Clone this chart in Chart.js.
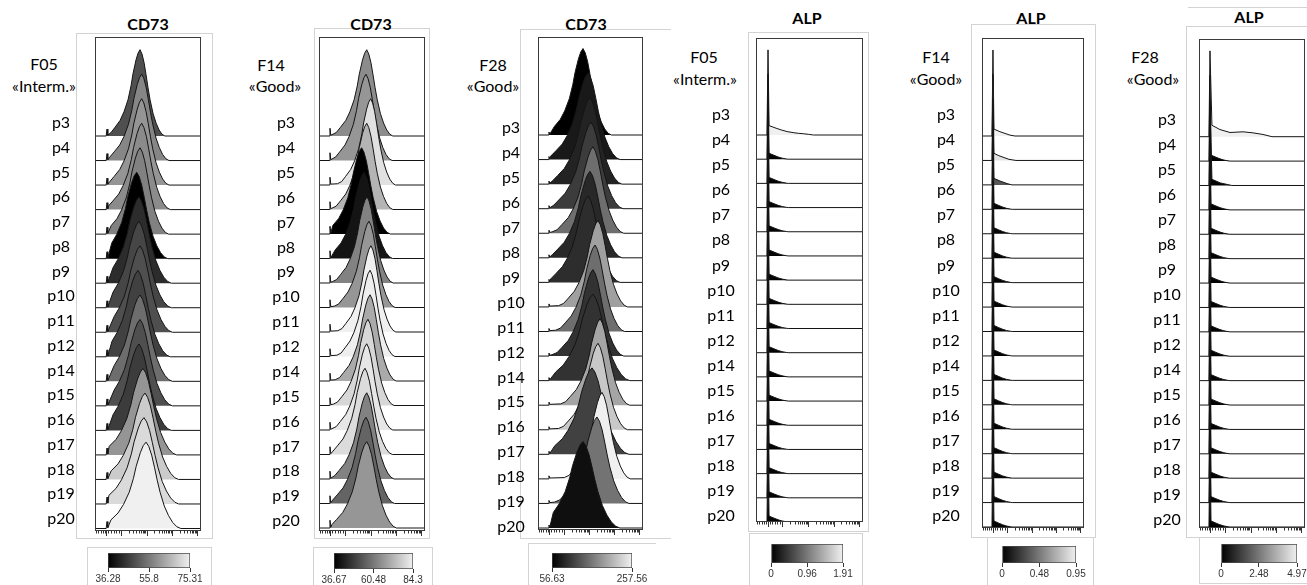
<!DOCTYPE html>
<html lang="fr">
<head>
<meta charset="utf-8">
<title>CD73 / ALP par passage</title>
<script src="https://cdn.jsdelivr.net/npm/chart.js@4.4.1/dist/chart.umd.min.js"></script>
<style>
  html, body { margin: 0; padding: 0; background: #fff; }
  body { position: relative; width: 1307px; height: 585px; overflow: hidden; font-family: Lato, 'Open Sans', sans-serif; color: #000; }
  .txt { position: absolute; line-height: 1; white-space: nowrap; transform: translate(-50%, -50%); font-size: 16px; }
  .titre { font-weight: bold; }
  .cadre { position: absolute; box-sizing: border-box; border: 1px solid #d3d3d3; }
  canvas { position: absolute; }
</style>
</head>
<body>
<script>
const passages = ['p3', 'p4', 'p5', 'p6', 'p7', 'p8', 'p9', 'p10', 'p11', 'p12', 'p14', 'p15', 'p16', 'p17', 'p18', 'p19', 'p20'];

// graduations de l'axe biexponentiel (canaux 0-1024)
const axisMajor = [115, 258, 503, 748, 993];
const axisMinor = [12, 35, 58, 80, 100, 135, 160, 185, 210, 235,
  332, 375, 405, 429, 449, 465, 479, 492,
  577, 620, 650, 674, 694, 710, 724, 737,
  822, 865, 895, 919, 939, 955, 969, 982];

// CD73 : mode (canal), largeur relative, MFI par passage
const cd73F05Mode = [435, 451, 451, 451, 435, 403, 425, 425, 435, 415, 435, 435, 425, 464, 483, 473, 493];
const cd73F05Spread = [1.0, 1.1, 1.1, 1.15, 1.15, 1.25, 1.3, 1.3, 1.3, 1.3, 1.3, 1.3, 1.3, 1.35, 1.35, 1.4, 1.4];
const cd73F05Mfi = [49.2, 58.1, 60.5, 58.9, 57.2, 36.3, 43.5, 47.6, 49.2, 46.8, 54.0, 49.2, 46.0, 60.5, 69.3, 71.8, 75.3];
const cd73F05Scale = [36.28, 55.8, 75.31];

const cd73F14Mode = [461, 454, 499, 461, 412, 435, 464, 483, 502, 493, 493, 473, 461, 444, 461, 454, 461];
const cd73F14Spread = [1.05, 1.05, 1.0, 1.05, 1.15, 1.15, 1.05, 1.05, 1.0, 1.0, 1.05, 1.05, 1.05, 1.1, 1.1, 1.15, 1.2];
const cd73F14Mfi = [64.5, 66.4, 81.3, 72.4, 36.7, 40.6, 62.5, 66.4, 84.3, 83.9, 70.4, 79.3, 82.3, 80.3, 62.5, 56.5, 66.4];
const cd73F14Scale = [36.67, 60.48, 84.3];

const cd73F28Mode = [439, 488, 507, 517, 536, 507, 488, 585, 556, 536, 536, 605, 585, 527, 624, 575, 439];
const cd73F28Spread = [1.15, 1.3, 1.3, 1.3, 1.25, 1.3, 1.3, 1.2, 1.2, 1.25, 1.5, 1.2, 1.2, 1.5, 1.15, 1.3, 1.5];
const cd73F28Mfi = [56.6, 77.6, 85.9, 106.9, 148.7, 90.1, 94.3, 190.6, 148.7, 98.5, 98.5, 194.8, 224.1, 111.0, 257.6, 152.9, 69.2];
const cd73F28Scale = [56.63, 257.56];

// profil type CD73 : écart au mode (canaux), % du mode
const cd73Profile = [[-320, 1.5], [-280, 4], [-242, 10], [-193, 18], [-155, 28], [-116, 42], [-87, 58], [-68, 72],
  [-39, 88], [-19, 96], [0, 100], [19, 95], [39, 85], [58, 71], [77, 56], [97, 42], [126, 26], [155, 15],
  [184, 7], [213, 2], [240, 0]];

// ALP : pic à zéro puis traîne (écart au pic en canaux, % du mode)
const alpTail = [[-10, 0], [0, 100], [10, 7], [29, 6], [58, 4.5], [97, 2.6], [135, 1.2], [174, 0.3], [193, 0]];
const alpF05P3 = [[-10, 0], [0, 100], [10, 11], [19, 10.6], [77, 8], [125, 6], [183, 4], [241, 2.8], [290, 2], [338, 1.5], [386, 0.8], [435, 0]];
const alpF14P3 = [[-10, 0], [0, 100], [10, 8], [70, 5], [171, 1], [221, 0]];
const alpF14P4 = [[-10, 0], [0, 100], [10, 8.3], [60, 5.5], [161, 1.3], [231, 0]];
const alpF14P5 = [[-10, 0], [0, 100], [10, 7.6], [70, 4.5], [141, 1.5], [191, 0]];
const alpF28P3 = [[-10, 0], [0, 100], [19, 13.3], [97, 8.3], [193, 4.9], [319, 5.7], [415, 4.5], [512, 2.6], [599, 0]];
const alpF28P5 = [[-10, 0], [0, 100], [19, 7.2], [100, 3], [212, 0]];

const alpF05Mfi = [1.91, 0.03, 0.02, 0.03, 0.02, 0.03, 0.02, 0.02, 0.03, 0.02, 0.02, 0.03, 0.02, 0.02, 0.03, 0.02, 0.02];
const alpF05Scale = [0, 0.96, 1.91];
const alpF14Mfi = [0.95, 0.9, 0.34, 0.02, 0.02, 0.02, 0.01, 0.02, 0.02, 0.01, 0.02, 0.02, 0.01, 0.02, 0.02, 0.01, 0.02];
const alpF14Scale = [0, 0.48, 0.95];
const alpF28Mfi = [4.97, 0.05, 0.06, 0.05, 0.04, 0.05, 0.04, 0.05, 0.04, 0.05, 0.04, 0.05, 0.04, 0.05, 0.04, 0.05, 0.04];
const alpF28Scale = [0, 2.48, 4.97];

const alpF05Shapes = passages.map((_, i) => i === 0 ? alpF05P3 : alpTail);
const alpF14Shapes = passages.map((_, i) => [alpF14P3, alpF14P4, alpF14P5][i] || alpTail);
const alpF28Shapes = passages.map((_, i) => i === 0 ? alpF28P3 : i === 2 ? alpF28P5 : alpTail);

const RIDGE = 3.52;   // hauteur du mode, en lignes

// disposition des six blocs (pixels de la page)
const panels = [
  { title: ['CD73', 148, 24], head: [['F05', 44, 64], ['«Interm.»', 44, 86]],
    box: [95, 37, 201, 531], base: [136, 528.5], lab: [61, 123, 519],
    frame: [76, 33, 212, 538], cbox: [87, 547, 211, 600], bar: [108, 553, 190, 568],
    kind: 'cd73', mode: cd73F05Mode, spread: cd73F05Spread, mfi: cd73F05Mfi, scale: cd73F05Scale, spikeAt: 116, spike: 8 },
  { title: ['CD73', 371, 24], head: [['F14', 271, 65], ['«Good»', 275, 86]],
    box: [319, 37, 425, 531], base: [136, 528], lab: [286, 123, 521],
    frame: [314, 28, 429, 538], cbox: [313, 547, 432, 600], bar: [334, 553, 413, 569],
    kind: 'cd73', mode: cd73F14Mode, spread: cd73F14Spread, mfi: cd73F14Mfi, scale: cd73F14Scale, spikeAt: 106, spike: 9 },
  { title: ['CD73', 586, 24], head: [['F28', 493, 65], ['«Good»', 493, 86]],
    box: [538, 37, 643, 530], base: [135, 528], lab: [511, 128, 527],
    frame: [520, 29, 670, 538], noRight: true, cbox: [528, 543, 655, 600], bar: [552, 553, 632, 568],
    kind: 'cd73', mode: cd73F28Mode, spread: cd73F28Spread, mfi: cd73F28Mfi, scale: cd73F28Scale, spikeAt: 107, spike: 3.5 },
  { title: ['ALP', 807, 18], head: [['F05', 704, 57], ['«Interm.»', 705, 79]],
    box: [756, 38, 863, 522], base: [135, 522], lab: [721, 115, 516],
    frame: [748, 32, 868, 531], cbox: [749, 533, 862, 600], bar: [771, 544, 843, 563],
    kind: 'alp', shapes: alpF05Shapes, mfi: alpF05Mfi, scale: alpF05Scale, spikeAt: 115 },
  { title: ['ALP', 1031, 18], head: [['F14', 936, 57], ['«Good»', 936, 79]],
    box: [982, 38, 1084, 528], base: [136, 527], lab: [946, 115, 516],
    frame: [971, 24, 1095, 537], cbox: [987, 537, 1093, 600], bar: [1002, 546, 1076, 563],
    kind: 'alp', shapes: alpF14Shapes, mfi: alpF14Mfi, scale: alpF14Scale, spikeAt: 110 },
  { title: ['ALP', 1249, 17], head: [['F28', 1145, 57], ['«Good»', 1153, 79]],
    box: [1199, 39, 1305, 528], base: [136.7, 527], lab: [1167, 120, 520],
    frame: [1186, 26, 1320, 537], noRight: true, cbox: [1199, 537, 1320, 583], bar: [1221, 544, 1297, 563],
    kind: 'alp', shapes: alpF28Shapes, mfi: alpF28Mfi, scale: alpF28Scale, spikeAt: 106 }
];

// cadre noir autour de la zone de tracé
const frameArea = {
  id: 'frameArea',
  afterDatasetsDraw(chart) {
    const { ctx, chartArea: a } = chart;
    ctx.save();
    ctx.strokeStyle = '#3a3a3a';
    ctx.lineWidth = 1;
    ctx.strokeRect(a.left + 0.5, a.top + 0.5, a.width - 1, a.height - 1);
    ctx.restore();
  }
};

function grey(v, scale) {
  const lo = scale[0], hi = scale[scale.length - 1];
  const g = Math.round(240 * Math.min(1, Math.max(0, (v - lo) / (hi - lo))));
  return 'rgb(' + g + ',' + g + ',' + g + ')';
}

function addText(txt, x, y, cls) {
  const d = document.createElement('div');
  d.className = 'txt' + (cls ? ' ' + cls : '');
  d.textContent = txt;
  d.style.left = x + 'px';
  d.style.top = y + 'px';
  document.body.appendChild(d);
}

function addFrame([l, t, r, b], noRight) {
  const d = document.createElement('div');
  d.className = 'cadre';
  d.style.left = l + 'px';
  d.style.top = t + 'px';
  d.style.width = (r - l + 1) + 'px';
  d.style.height = (b - t + 1) + 'px';
  if (noRight) d.style.borderRight = 'none';
  document.body.appendChild(d);
}

function rowPoints(p, i) {
  if (p.kind === 'alp') {
    return [[0, 0], ...p.shapes[i].map(([dx, v]) => [p.spikeAt + dx, v]), [1024, 0]];
  }
  const k = p.spikeAt, m = p.mode[i], s = p.spread[i];
  const pts = [[0, 0], [k - 8, 0], [k, p.spike], [k + 8, 1]];
  cd73Profile.forEach(([dx, v]) => {
    const x = m + dx * s;
    if (x > k + 12) pts.push([x, v]);
  });
  pts.push([1024, 0]);
  return pts;
}

function drawPanel(p) {
  const [L, T, R, B] = p.box;
  const labelW = 100;
  const cv = document.createElement('canvas');
  cv.width = labelW + (R - L) + 2;
  cv.height = (B - T) + 12;
  cv.style.left = (L - labelW) + 'px';
  cv.style.top = (T - 2) + 'px';
  document.body.appendChild(cv);

  const H = B - T;
  const yRange = 16 * H / (p.base[1] - p.base[0]);
  const yMin = -(p.base[0] - T) * yRange / H;
  const lRange = 16 * H / (p.lab[2] - p.lab[1]);
  const lMin = -(p.lab[1] - T) * lRange / H;

  const ctx = cv.getContext('2d');
  ctx.font = '16px Lato';
  const widest = Math.max(...passages.map(s => ctx.measureText(s).width));

  const datasets = passages.map((name, i) => ({
    label: name,
    data: rowPoints(p, i).map(([x, v]) => ({ x: x, y: i - v / 100 * RIDGE })),
    yAxisID: 'y',
    order: passages.length - 1 - i,
    borderColor: '#141414',
    borderWidth: 1,
    backgroundColor: grey(p.mfi[i], p.scale),
    fill: { value: i },
    pointRadius: 0,
    tension: 0
  }));

  new Chart(cv, {
    type: 'line',
    data: { datasets: datasets },
    options: {
      responsive: false,
      animation: false,
      events: [],
      devicePixelRatio: 1,
      layout: { padding: { left: 0, top: 2, right: 2, bottom: 2 } },
      plugins: { legend: { display: false }, tooltip: { enabled: false } },
      scales: {
        x: {
          type: 'linear', min: 0, max: 1024,
          afterBuildTicks: ax => {
            ax.ticks = axisMajor.map(v => ({ value: v, major: true }))
              .concat(axisMinor.map(v => ({ value: v, major: false })))
              .sort((a, b) => a.value - b.value);
          },
          afterFit: ax => { ax.height = 8; ax.paddingLeft = 0; ax.paddingRight = 0; },
          ticks: { display: false },
          border: { display: false },
          grid: {
            drawOnChartArea: false, drawTicks: true, tickLength: 5,
            tickColor: '#333', tickWidth: 1,
            tickBorderDash: c => (c.tick && c.tick.major) ? [] : [2.5, 10]
          }
        },
        y: { type: 'linear', display: false, min: yMin, max: yMin + yRange, reverse: true },
        yl: {
          type: 'linear', position: 'left', min: lMin, max: lMin + lRange, reverse: true,
          afterBuildTicks: ax => { ax.ticks = passages.map((_, i) => ({ value: i })); },
          afterFit: ax => { ax.width = labelW; ax.paddingTop = 0; ax.paddingBottom = 0; },
          grid: { display: false, drawTicks: false },
          border: { display: false },
          ticks: {
            autoSkip: false, crossAlign: 'center',
            padding: L - p.lab[0] - widest / 2,
            font: { family: 'Lato', size: 16 }, color: '#000',
            callback: (v, idx) => passages[idx]
          }
        }
      }
    },
    plugins: [frameArea]
  });
}

function drawScaleBar(p) {
  const [gl, gt, gr, gb] = p.bar;
  const lo = p.scale[0], hi = p.scale[p.scale.length - 1];
  const cv = document.createElement('canvas');
  cv.width = (gr - gl) + 50;
  cv.height = (gb - gt) + 24;
  cv.style.left = (gl - 25) + 'px';
  cv.style.top = (gt - 2) + 'px';
  document.body.appendChild(cv);

  new Chart(cv, {
    type: 'bar',
    data: {
      labels: [''],
      datasets: [{
        data: [[lo, hi]],
        backgroundColor: c => {
          const a = c.chart.chartArea;
          if (!a) return '#888';
          const g = c.chart.ctx.createLinearGradient(a.left, 0, a.right, 0);
          g.addColorStop(0, '#000');
          g.addColorStop(1, '#f0f0f0');
          return g;
        },
        borderColor: '#4a4a4a',
        borderWidth: 1,
        borderSkipped: false,
        barPercentage: 1,
        categoryPercentage: 1
      }]
    },
    options: {
      indexAxis: 'y',
      responsive: false,
      animation: false,
      events: [],
      devicePixelRatio: 1,
      layout: { padding: { left: 25, right: 25, top: 2, bottom: 0 } },
      plugins: { legend: { display: false }, tooltip: { enabled: false } },
      scales: {
        x: {
          type: 'linear', min: lo, max: hi,
          afterBuildTicks: ax => { ax.ticks = p.scale.map(v => ({ value: v })); },
          afterFit: ax => { ax.height = 22; },
          border: { display: false },
          grid: { drawOnChartArea: false, tickLength: 4, tickColor: '#333' },
          ticks: {
            autoSkip: false, maxRotation: 0, padding: 1,
            font: { family: 'Liberation Sans', size: 10 }, color: '#333',
            callback: v => String(v)
          }
        },
        y: { display: false }
      }
    }
  });
}

function draw() {
  panels.forEach(p => {
    addFrame(p.frame, p.noRight);
    addFrame(p.cbox, p.noRight);
    addText(p.title[0], p.title[1], p.title[2], 'titre');
    p.head.forEach(([t, x, y]) => addText(t, x, y));
    drawPanel(p);
    drawScaleBar(p);
  });
  // filet au-dessus du dernier titre
  const filet = document.createElement('div');
  filet.style.cssText = 'position:absolute;left:1188px;top:7px;width:130px;height:0;border-top:1px solid #d3d3d3;';
  document.body.appendChild(filet);
}

Promise.all([
  document.fonts.load('16px Lato'),
  document.fonts.load('bold 16px Lato'),
  document.fonts.load('10px "Liberation Sans"')
]).catch(() => {}).then(draw);
</script>
</body>
</html>
